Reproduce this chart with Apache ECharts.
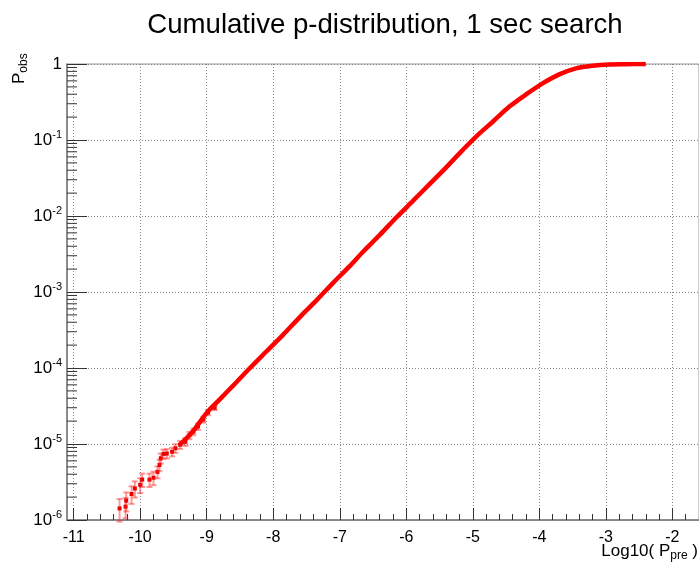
<!DOCTYPE html>
<html>
<head>
<meta charset="utf-8">
<script src="https://cdn.jsdelivr.net/npm/echarts@6/dist/echarts.min.js"></script>
<style>
  html, body { margin: 0; padding: 0; background: #fff; }
  #main { width: 699px; height: 567px; }
</style>
</head>
<body>
<div id="main"></div>
<script>
// low end: sparse points with error bars (relative errors)
var lowX = [-10.31, -10.22, -10.21, -10.13, -10.08, -10.0, -9.97, -9.86, -9.80, -9.74, -9.71, -9.69, -9.65, -9.60, -9.52, -9.47, -9.40, -9.32, -9.26, -9.20, -9.13, -9.05, -8.98, -8.88];
var lowY = [1.42e-6, 1.5e-6, 1.8e-6, 2.2e-6, 2.6e-6, 2.9e-6, 3.4e-6, 3.4e-6, 3.6e-6, 4.3e-6, 5.3e-6, 6.5e-6, 7.4e-6, 7.5e-6, 7.9e-6, 8.8e-6, 9.8e-6, 1.07e-5, 1.3e-5, 1.45e-5, 1.7e-5, 2.1e-5, 2.6e-5, 3.0e-5];
var lowErr = [0.33, 0.30, 0.28, 0.26, 0.24, 0.22, 0.20, 0.20, 0.20, 0.18, 0.17, 0.15, 0.14, 0.14, 0.13, 0.13, 0.12, 0.12, 0.11, 0.10, 0.10, 0.09, 0.08, 0.07];

// dense part of the cumulative curve
var curveX = [-9.40, -9.20, -9.00, -8.80, -8.60, -8.35, -8.10, -7.85, -7.60, -7.35, -7.10, -6.85, -6.65, -6.40, -6.15, -5.90, -5.65, -5.40, -5.15, -4.95, -4.70, -4.45, -4.20, -3.95, -3.70, -3.45, -3.20, -2.95, -2.70, -2.40];
var curveY = [9.8e-6, 1.5e-5, 2.57e-5, 3.9e-5, 5.9e-5, 1.0e-4, 1.66e-4, 2.75e-4, 4.68e-4, 7.76e-4, 1.32e-3, 2.19e-3, 3.39e-3, 5.62e-3, 9.55e-3, 0.0158, 0.0263, 0.0437, 0.0741, 0.111, 0.174, 0.275, 0.398, 0.557, 0.731, 0.877, 0.95, 0.988, 0.995, 1.0];

var xTicks = [-11, -10, -9, -8, -7, -6, -5, -4, -3, -2];
var yTicks = [1e-6, 1e-5, 1e-4, 1e-3, 1e-2, 1e-1, 1];

var xMin = -11.1, xMax = -1.6;
var font = 'Liberation Sans';

// minor ticks: 5 divisions on x, 2..9 per decade on y
var xMinor = [];
for (var i = 0; i < xTicks.length; i++) {
    for (var k = 1; k < 5; k++) {
        var v = Math.round((xTicks[i] + 0.2 * k) * 10) / 10;
        if (v < xMax) xMinor.push(v);
    }
}
var yMinor = [];
for (var d = 0; d < yTicks.length - 1; d++) {
    for (var m = 2; m <= 9; m++) yMinor.push(yTicks[d] * m);
}

var lowData = lowX.map(function (x, i) { return [x, lowY[i], lowErr[i]]; });
var curveData = curveX.map(function (x, i) { return [x, curveY[i]]; });

var renderErr = function (params, api) {
    var x = api.value(0), y = api.value(1), e = api.value(2);
    var p = api.coord([x, y]);
    var hi = api.coord([x, y * (1 + e)]);
    var lo = api.coord([x, y * (1 - e)]);
    var barStyle = { stroke: 'rgba(255,30,30,0.45)', lineWidth: 2 };
    return {
        type: 'group',
        children: [
            { type: 'line', shape: { x1: p[0], y1: hi[1], x2: p[0], y2: lo[1] }, style: barStyle },
            { type: 'line', shape: { x1: p[0] - 3, y1: hi[1], x2: p[0] + 3, y2: hi[1] }, style: barStyle },
            { type: 'line', shape: { x1: p[0] - 3, y1: lo[1], x2: p[0] + 3, y2: lo[1] }, style: barStyle },
            { type: 'rect', shape: { x: p[0] - 2, y: p[1] - 2, width: 4, height: 4 }, style: { fill: '#ee0000' } }
        ]
    };
};

var renderMinorY = function (params, api) {
    var p = api.coord([xMin, api.value(0)]);
    return {
        type: 'line',
        shape: { x1: p[0], y1: p[1], x2: p[0] + 10, y2: p[1] },
        style: { stroke: '#333', lineWidth: 1 }
    };
};

var myChart = echarts.init(document.getElementById('main'));

var option = {
    animation: false,
    backgroundColor: '#fff',
    title: {
        text: 'Cumulative p-distribution, 1 sec search',
        left: 380,
        top: 6,
        textAlign: 'center',
        textStyle: { fontFamily: font, fontSize: 27.6, fontWeight: 'normal', color: '#000' }
    },
    grid: {
        left: 67, top: 64, right: 0, bottom: 47,
        show: true, borderColor: '#999', borderWidth: 1,
        containLabel: false, outerBoundsMode: 'none'
    },
    xAxis: [
        {
            type: 'value', min: xMin, max: xMax,
            axisLine: { onZero: false, lineStyle: { color: '#777', width: 1.5 } },
            axisTick: { inside: true, length: 12, customValues: xTicks, lineStyle: { color: '#333' } },
            axisLabel: {
                customValues: xTicks, margin: 10,
                fontFamily: font, fontSize: 16, color: '#000'
            },
            splitLine: { show: true, lineStyle: { color: '#888', type: [1, 2] } }
        },
        {
            type: 'value', min: xMin, max: xMax, position: 'bottom',
            axisLine: { show: false },
            axisTick: { inside: true, length: 6, customValues: xMinor, lineStyle: { color: '#333' } },
            axisLabel: { show: false },
            splitLine: { show: false }
        }
    ],
    yAxis: {
        type: 'log', logBase: 10, min: 1e-6, max: 1,
        axisLine: { show: true, lineStyle: { color: '#777', width: 1.5 } },
        axisTick: { show: true, inside: true, length: 20, lineStyle: { color: '#333' } },
        axisLabel: {
            margin: 5,
            formatter: function (v) {
                var ex = Math.round(Math.log(v) / Math.LN10);
                if (ex === 0) return '{b|1}';
                return '{b|10}{s|' + ex + '}';
            },
            rich: {
                b: { fontFamily: font, fontSize: 17, lineHeight: 22, color: '#000' },
                s: { fontFamily: font, fontSize: 11, lineHeight: 14, verticalAlign: 'top', color: '#000' }
            }
        },
        splitLine: { show: true, lineStyle: { color: '#888', type: [1, 2] } }
    },
    graphic: [
        {
            type: 'text', x: 698, y: 540,
            style: {
                text: '{a|Log10( P}{s|pre}{a| )}',
                align: 'right', verticalAlign: 'top',
                rich: {
                    a: { fontFamily: font, fontSize: 17, lineHeight: 22, fill: '#000' },
                    s: { fontFamily: font, fontSize: 12, lineHeight: 12, verticalAlign: 'bottom', fill: '#000' }
                }
            }
        },
        {
            type: 'text', x: 8, y: 84, rotation: Math.PI / 2,
            style: {
                text: '{a|P}{s|obs}',
                align: 'left', verticalAlign: 'top',
                rich: {
                    a: { fontFamily: font, fontSize: 17, lineHeight: 22, fill: '#000' },
                    s: { fontFamily: font, fontSize: 12, lineHeight: 12, verticalAlign: 'bottom', fill: '#000' }
                }
            }
        }
    ],
    series: [
        {
            type: 'custom', name: 'yMinor', silent: true,
            renderItem: renderMinorY,
            data: yMinor.map(function (v) { return [v]; }),
            encode: { y: 0 }
        },
        {
            type: 'line', name: 'curve',
            data: curveData,
            showSymbol: false,
            smooth: 0.3,
            lineStyle: { color: '#ff0000', width: 4.5 },
            itemStyle: { color: '#ff0000' }
        },
        {
            type: 'custom', name: 'low',
            renderItem: renderErr,
            data: lowData
        }
    ]
};

myChart.setOption(option);
</script>
</body>
</html>
